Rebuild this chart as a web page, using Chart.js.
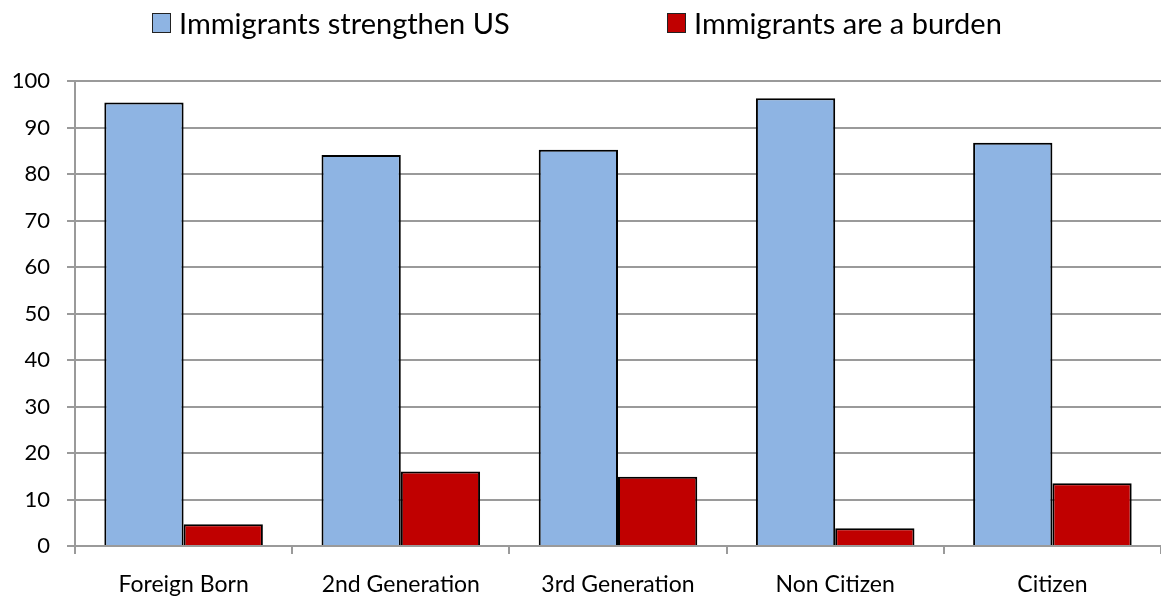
<!DOCTYPE html>
<html>
<head>
<meta charset="utf-8">
<script src="https://cdn.jsdelivr.net/npm/chart.js@4/dist/chart.umd.min.js"></script>
<style>
  html, body { margin: 0; padding: 0; background: #fff; }
  #wrap { position: relative; width: 1161px; height: 602px; }
  #grafico { position: absolute; left: 0; top: 0; }
  .leg-item { position: absolute; top: 5px; display: flex; align-items: center; font-family: Lato, sans-serif; font-size: 29px; color: #000; white-space: nowrap; }
  .leg-box { width: 17px; height: 18px; border: 1px solid #222; margin-right: 8px; }
</style>
</head>
<body>
<div id="wrap">
  <canvas id="grafico" width="1161" height="602"></canvas>
</div>
<script>
// categorias e valores (percentual)
const categorias = ['Foreign Born', '2nd Generation', '3rd Generation', 'Non Citizen', 'Citizen'];
const fortalecem = [95.4, 84.1, 85.2, 96.3, 86.7];
const fardo = [4.7, 16.0, 14.9, 3.8, 13.5];
const series = ['Immigrants strengthen US', 'Immigrants are a burden'];
const cores = ['#8EB4E3', '#C00000'];
const ticksY = [0, 10, 20, 30, 40, 50, 60, 70, 80, 90, 100];

const cinza = '#9a9a9a';

// legenda em HTML, posições de cada item
const posLegenda = [152, 667];
series.forEach((nome, i) => {
    const item = document.createElement('div');
    item.className = 'leg-item';
    item.style.left = posLegenda[i] + 'px';
    item.innerHTML = `<span class="leg-box" style="background:${cores[i]}"></span><span>${nome}</span>`;
    document.getElementById('wrap').appendChild(item);
});

const contexto = document.getElementById('grafico').getContext('2d');

new Chart(contexto, {
    type: 'bar',
    data: {
        labels: categorias,
        datasets: [
            { label: series[0], data: fortalecem, backgroundColor: cores[0], borderColor: '#000', borderWidth: 2 },
            { label: series[1], data: fardo, backgroundColor: cores[1], borderColor: '#000', borderWidth: 2 }
        ]
    },
    options: {
        responsive: false,
        animation: false,
        categoryPercentage: 0.73,
        barPercentage: 1,
        layout: { padding: { top: 81, right: 0, bottom: 0, left: 0 } },
        plugins: {
            legend: { display: false },
            tooltip: { enabled: false }
        },
        scales: {
            x: {
                offset: true,
                grid: { offset: true, drawOnChartArea: false, drawTicks: true, tickLength: 8, color: cinza, lineWidth: 2 },
                border: { color: cinza, width: 2 },
                ticks: { color: '#000', font: { family: 'Lato', size: 23 }, padding: 17, maxRotation: 0 },
                afterFit: escala => { escala.height = 56; }
            },
            y: {
                min: 0,
                max: 100,
                afterBuildTicks: escala => { escala.ticks = ticksY.map(v => ({ value: v })); },
                grid: { color: cinza, lineWidth: 2, drawTicks: true, tickLength: 8 },
                border: { color: cinza, width: 2 },
                ticks: { color: '#000', font: { family: 'Lato', size: 22 }, padding: 17 },
                afterFit: escala => { escala.width = 75; }
            }
        }
    }
});
</script>
</body>
</html>
